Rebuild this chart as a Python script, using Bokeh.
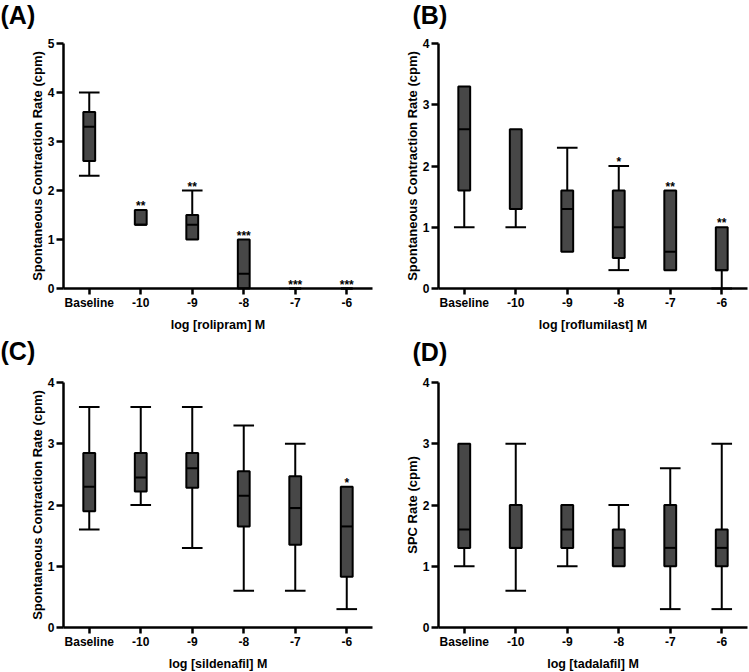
from bokeh.plotting import figure
from bokeh.models import Range1d, FixedTicker, LinearAxis, Label
from bokeh.layouts import gridplot
from bokeh.embed import file_html
from bokeh.resources import INLINE

doses = ["Baseline", "-10", "-9", "-8", "-7", "-6"]

# (A) rolipram
rolipram_min = [2.3, 1.3, 1.0, 0.0, 0.0, 0.0]
rolipram_q1 = [2.6, 1.3, 1.0, 0.0, 0.0, 0.0]
rolipram_med = [3.3, 1.3, 1.3, 0.3, 0.0, 0.0]
rolipram_q3 = [3.6, 1.6, 1.5, 1.0, 0.0, 0.0]
rolipram_max = [4.0, 1.6, 2.0, 1.0, 0.0, 0.0]
rolipram_sig = ["", "**", "**", "***", "***", "***"]

# (B) roflumilast
roflumilast_min = [1.0, 1.0, 0.6, 0.3, 0.3, 0.0]
roflumilast_q1 = [1.6, 1.3, 0.6, 0.5, 0.3, 0.3]
roflumilast_med = [2.6, 1.3, 1.3, 1.0, 0.6, 0.3]
roflumilast_q3 = [3.3, 2.6, 1.6, 1.6, 1.6, 1.0]
roflumilast_max = [3.3, 2.6, 2.3, 2.0, 1.6, 1.0]
roflumilast_sig = ["", "", "", "*", "**", "**"]

# (C) sildenafil
sildenafil_min = [1.6, 2.0, 1.3, 0.6, 0.6, 0.3]
sildenafil_q1 = [1.9, 2.22, 2.28, 1.65, 1.35, 0.83]
sildenafil_med = [2.3, 2.45, 2.6, 2.15, 1.95, 1.65]
sildenafil_q3 = [2.85, 2.85, 2.85, 2.55, 2.47, 2.3]
sildenafil_max = [3.6, 3.6, 3.6, 3.3, 3.0, 2.3]
sildenafil_sig = ["", "", "", "", "", "*"]

# (D) tadalafil
tadalafil_min = [1.0, 0.6, 1.0, 1.0, 0.3, 0.3]
tadalafil_q1 = [1.3, 1.3, 1.3, 1.0, 1.0, 1.0]
tadalafil_med = [1.6, 1.3, 1.6, 1.3, 1.3, 1.3]
tadalafil_q3 = [3.0, 2.0, 2.0, 1.6, 2.0, 1.6]
tadalafil_max = [3.0, 3.0, 2.0, 2.0, 2.6, 3.0]
tadalafil_sig = ["", "", "", "", "", ""]

FONT = "Liberation Sans"
BOX_FILL = "#474747"
BOX_W = 0.23
CAP_W = 0.40

# panel geometry in pixels: the plotting frame fills the whole panel and the
# axes are pinned at fixed data locations, leaving room for the panel letter
PANEL_H = 336
AXIS_LEFT = 63
AXIS_H = 245


def panel(letter, lo, q1, med, q3, hi, sig, ymax, ylabel, xlabel,
          width, pad_top, pad_right, letter_x, letter_top):
    n = len(doses)
    plot_w = width - AXIS_LEFT - pad_right
    px_per_cat = plot_w / n
    px_per_unit = AXIS_H / ymax
    pad_bottom = PANEL_H - pad_top - AXIS_H
    x_range = Range1d(-0.5 - AXIS_LEFT / px_per_cat, n - 0.5 + pad_right / px_per_cat)
    y_range = Range1d(-pad_bottom / px_per_unit, ymax + pad_top / px_per_unit)

    p = figure(width=width, height=PANEL_H, output_backend="svg", toolbar_location=None,
               x_range=x_range, y_range=y_range, x_axis_type=None, y_axis_type=None,
               min_border=0, background_fill_color="white", border_fill_color="white")
    p.outline_line_color = None
    p.grid.visible = False
    p.title = None

    xs = list(range(n))

    # whiskers (only where they extend beyond the box)
    lw_x = [x for x, a, b in zip(xs, lo, q1) if a < b]
    lw_y0 = [a for a, b in zip(lo, q1) if a < b]
    lw_y1 = [b for a, b in zip(lo, q1) if a < b]
    uw_x = [x for x, a, b in zip(xs, q3, hi) if b > a]
    uw_y0 = [a for a, b in zip(q3, hi) if b > a]
    uw_y1 = [b for a, b in zip(q3, hi) if b > a]
    seg_kw = dict(line_color="black", line_width=2)
    p.segment(x0=lw_x, x1=lw_x, y0=lw_y0, y1=lw_y1, **seg_kw)
    p.segment(x0=uw_x, x1=uw_x, y0=uw_y0, y1=uw_y1, **seg_kw)
    p.segment(x0=[x - CAP_W / 2 for x in lw_x], x1=[x + CAP_W / 2 for x in lw_x],
              y0=lw_y0, y1=lw_y0, **seg_kw)
    p.segment(x0=[x - CAP_W / 2 for x in uw_x], x1=[x + CAP_W / 2 for x in uw_x],
              y0=uw_y1, y1=uw_y1, **seg_kw)

    # boxes and medians
    p.vbar(x=xs, bottom=q1, top=q3, width=BOX_W, fill_color=BOX_FILL,
           line_color="black", line_width=2)
    p.segment(x0=[x - BOX_W / 2 for x in xs], x1=[x + BOX_W / 2 for x in xs],
              y0=med, y1=med, **seg_kw)

    # significance marks above each group
    p.text(x=xs, y=hi, text=sig, text_align="center", text_baseline="bottom",
           y_offset=3, text_font={"value": FONT}, text_font_style="bold",
           text_font_size="12px", text_color="black")

    # axes pinned at the data origin
    xaxis = LinearAxis(fixed_location=0, bounds=(-0.5, n - 0.5),
                       ticker=FixedTicker(ticks=xs),
                       major_label_overrides={x: d for x, d in zip(xs, doses)})
    yaxis = LinearAxis(fixed_location=-0.5, bounds=(0, ymax),
                       ticker=FixedTicker(ticks=list(range(ymax + 1))))
    for ax in (xaxis, yaxis):
        ax.axis_line_width = 2.5
        ax.axis_line_color = "black"
        ax.major_tick_line_width = 2.5
        ax.major_tick_line_color = "black"
        ax.major_tick_out = 7
        ax.major_tick_in = 0
        ax.minor_tick_line_color = None
        ax.major_label_text_font = FONT
        ax.major_label_text_font_style = "bold"
        ax.major_label_text_font_size = "12px"
        ax.major_label_text_color = "black"
        ax.axis_label_text_font = FONT
        ax.axis_label_text_font_style = "bold"
        ax.axis_label_text_color = "black"
    xaxis.major_tick_out = 6
    xaxis.major_label_standoff = 1
    xaxis.axis_label = xlabel
    xaxis.axis_label_text_font_size = "12.5px"
    xaxis.axis_label_standoff = 5
    yaxis.major_label_standoff = 2
    yaxis.axis_label = ylabel
    yaxis.axis_label_text_font_size = "13px"
    yaxis.axis_label_standoff = 0
    p.add_layout(xaxis, "below")
    p.add_layout(yaxis, "left")

    # panel letter in the top-left corner
    p.add_layout(Label(x=letter_x, y=PANEL_H - letter_top, x_units="screen",
                       y_units="screen", text=letter, text_font=FONT,
                       text_font_style="bold", text_font_size="25px",
                       text_color="black", text_baseline="top", text_align="left"))
    return p


rate_label = "Spontaneous Contraction Rate (cpm)"
pa = panel("(A)", rolipram_min, rolipram_q1, rolipram_med, rolipram_q3, rolipram_max,
           rolipram_sig, 5, rate_label, "log [rolipram] M", 375, 43, 3, 0, 0)
pb = panel("(B)", roflumilast_min, roflumilast_q1, roflumilast_med, roflumilast_q3,
           roflumilast_max, roflumilast_sig, 4, rate_label, "log [roflumilast] M",
           374, 43, 2, 37, 0)
pc = panel("(C)", sildenafil_min, sildenafil_q1, sildenafil_med, sildenafil_q3,
           sildenafil_max, sildenafil_sig, 4, rate_label, "log [sildenafil] M",
           375, 46, 3, 0, 0)
pd = panel("(D)", tadalafil_min, tadalafil_q1, tadalafil_med, tadalafil_q3,
           tadalafil_max, tadalafil_sig, 4, "SPC Rate (cpm)", "log [tadalafil] M",
           374, 46, 2, 37, 1)

grid = gridplot([[pa, pb], [pc, pd]], toolbar_location=None)
open("out.html", "w").write(file_html(grid, INLINE))
